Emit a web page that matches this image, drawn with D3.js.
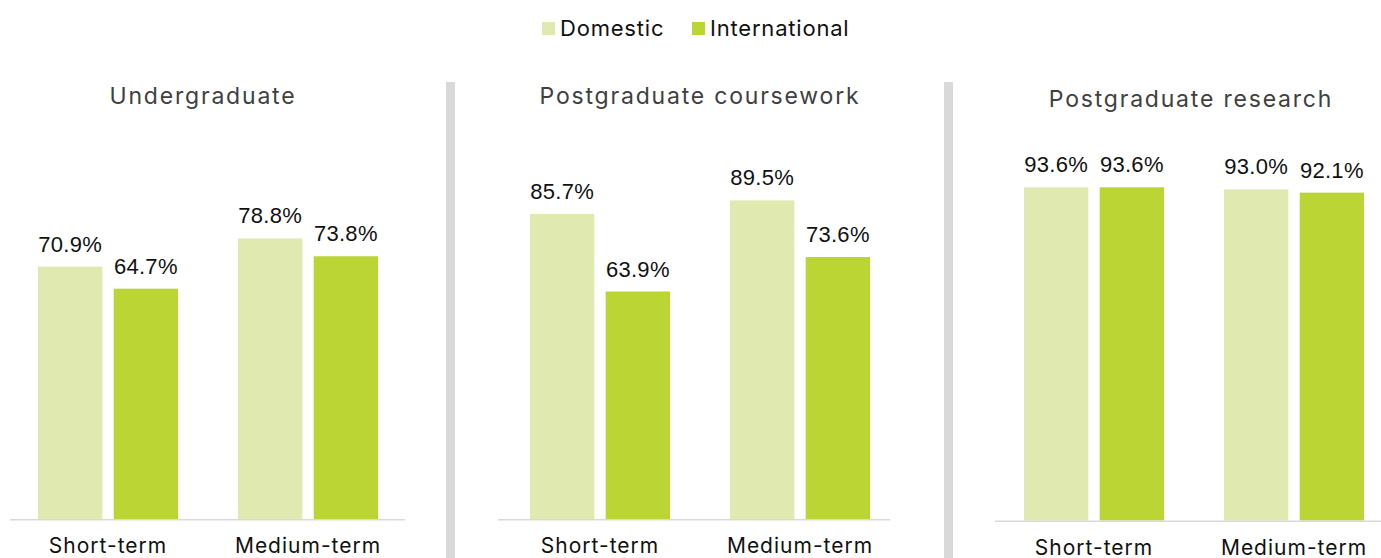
<!DOCTYPE html>
<html>
<head>
<meta charset="utf-8">
<script src="https://cdn.jsdelivr.net/npm/d3@7"></script>
<style>
  body { margin: 0; background: #fff; }
  svg { display: block; }
</style>
</head>
<body>
<svg id="chart" width="1381" height="558"></svg>
<script>
const panels = ['Undergraduate', 'Postgraduate coursework', 'Postgraduate research']
const periods = ['Short-term', 'Medium-term']
const seriesNames = ['Domestic', 'International']
const colours = ['#e0eab0', '#bad534']

// values per panel: [period][series]
const undergrad = [[70.9, 64.7], [78.8, 73.8]]
const pgCoursework = [[85.7, 63.9], [89.5, 73.6]]
const pgResearch = [[93.6, 93.6], [93.0, 92.1]]
const panelValues = [undergrad, pgCoursework, pgResearch]

const svg = d3.select('#chart')
const fontUI = 'Inter, "Open Sans", sans-serif'
const fontNum = '"Liberation Sans", Arial, sans-serif'

// layout for each panel
const layout = [
  { x0: 8, axisX: [10, 405], base: 519, titleX: 203, titleY: 104 },
  { x0: 500, axisX: [498, 890], base: 519, titleX: 700, titleY: 104 },
  { x0: 994, axisX: [995, 1381], base: 520.5, titleX: 1191, titleY: 107 }
]

// legend
const legend = svg.append('g').attr('class', 'legend')
const legendX = [542, 692]
seriesNames.forEach((name, i) => {
  legend.append('rect')
    .attr('x', legendX[i]).attr('y', 22)
    .attr('width', 13).attr('height', 13)
    .attr('fill', colours[i])
  legend.append('text')
    .attr('x', legendX[i] + 18).attr('y', 36)
    .attr('font-family', fontUI).attr('font-size', 22)
    .attr('letter-spacing', 0.8)
    .attr('fill', '#111')
    .text(name)
})

// dividers
;[450.5, 948.5].forEach(x => {
  svg.append('line')
    .attr('x1', x).attr('x2', x)
    .attr('y1', 82).attr('y2', 558)
    .attr('stroke', '#d9d9d9').attr('stroke-width', 9)
})

panels.forEach((title, p) => {
  const L = layout[p]
  const g = svg.append('g').attr('class', 'panel')

  const x = d3.scaleBand().domain(periods).range([L.x0, L.x0 + 400])
  const xs = d3.scaleBand().domain(seriesNames).range([30, 170]).paddingInner(0.15)
  const y = d3.scaleLinear().domain([0, 100]).range([L.base, L.base - 356])

  g.append('text')
    .attr('x', L.titleX)
    .attr('y', L.titleY)
    .attr('text-anchor', 'middle')
    .attr('font-family', fontUI).attr('font-size', 23)
    .attr('fill', '#404040')
    .attr('letter-spacing', 1.8)
    .text(title)

  const data = []
  periods.forEach((per, i) => {
    seriesNames.forEach((s, j) => {
      data.push({ per, s, j, v: panelValues[p][i][j] })
    })
  })

  g.selectAll('rect.bar').data(data).join('rect')
    .attr('class', 'bar')
    .attr('x', d => x(d.per) + xs(d.s))
    .attr('width', xs.bandwidth())
    .attr('y', d => y(d.v))
    .attr('height', d => y(0) - y(d.v))
    .attr('fill', d => colours[d.j])

  g.selectAll('text.val').data(data).join('text')
    .attr('class', 'val')
    .attr('x', d => x(d.per) + xs(d.s) + xs.bandwidth() / 2)
    .attr('y', d => y(d.v) - 15)
    .attr('text-anchor', 'middle')
    .attr('font-family', fontNum).attr('font-size', 22)
    .attr('letter-spacing', 0.3)
    .attr('fill', '#111')
    .text(d => d.v.toFixed(1) + '%')

  g.append('line')
    .attr('x1', L.axisX[0]).attr('x2', L.axisX[1])
    .attr('y1', L.base + 0.75).attr('y2', L.base + 0.75)
    .attr('stroke', '#d9d9d9').attr('stroke-width', 1.5)

  g.selectAll('text.cat').data(periods).join('text')
    .attr('class', 'cat')
    .attr('x', d => x(d) + x.bandwidth() / 2)
    .attr('y', L.base + 34)
    .attr('text-anchor', 'middle')
    .attr('font-family', fontUI).attr('font-size', 21)
    .attr('fill', '#111')
    .attr('letter-spacing', 1.0)
    .text(d => d)
})
</script>
</body>
</html>
